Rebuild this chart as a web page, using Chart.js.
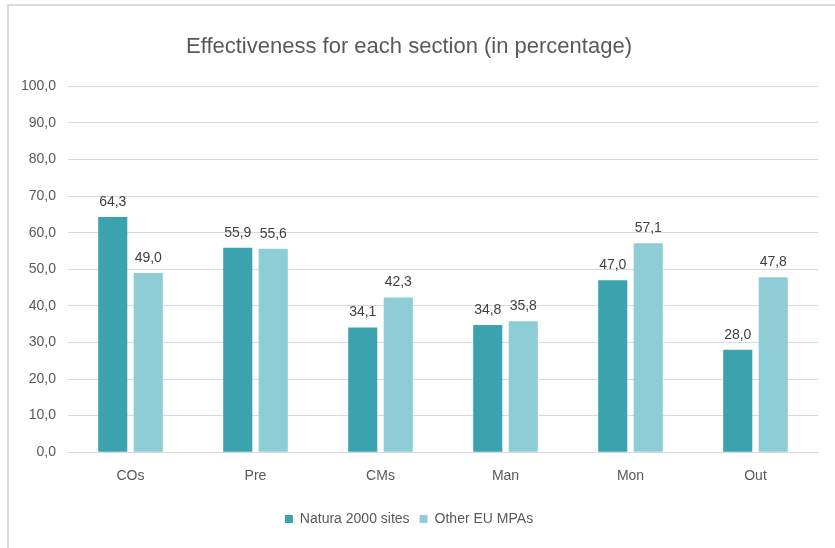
<!DOCTYPE html>
<html>
<head>
<meta charset="utf-8">
<script src="https://cdn.jsdelivr.net/npm/chart.js@4/dist/chart.umd.min.js"></script>
<style>
  html, body { margin: 0; padding: 0; background: #fff; }
  .frame { position: absolute; left: 7px; top: 4px; width: 840px; height: 560px; border-left: 2px solid #dcdcdc; border-top: 2px solid #dcdcdc; }
  .wrap { position: absolute; left: 0; top: 0; width: 835px; height: 548px; }
</style>
</head>
<body>
<div class="frame"></div>
<div class="wrap"><canvas id="chart" width="835" height="548"></canvas></div>
<script>
// values
const sections = ['COs', 'Pre', 'CMs', 'Man', 'Mon', 'Out'];
const natura2000 = [64.3, 55.9, 34.1, 34.8, 47.0, 28.0];
const otherEuMpas = [49.0, 55.6, 42.3, 35.8, 57.1, 47.8];

const fmt = v => v.toFixed(1).replace('.', ',');

// simple value labels above each bar
const valueLabels = {
  id: 'valueLabels',
  afterDatasetsDraw(chart) {
    const ctx = chart.ctx;
    ctx.save();
    ctx.font = '14px "Liberation Sans", Arial, sans-serif';
    ctx.fillStyle = '#404040';
    ctx.textAlign = 'center';
    ctx.textBaseline = 'bottom';
    chart.data.datasets.forEach((ds, i) => {
      chart.getDatasetMeta(i).data.forEach((bar, j) => {
        ctx.fillText(fmt(ds.data[j]), bar.x, bar.y - 8);
      });
    });
    ctx.restore();
  }
};

new Chart(document.getElementById('chart'), {
  type: 'bar',
  data: {
    labels: sections,
    datasets: [
      { label: 'Natura 2000 sites', data: natura2000, backgroundColor: '#3ba3ad' },
      { label: 'Other EU MPAs', data: otherEuMpas, backgroundColor: '#8ecdd5' }
    ]
  },
  options: {
    responsive: false,
    animation: false,
    layout: { padding: { left: 0, right: 17, top: 0, bottom: 12 } },
    datasets: { bar: { categoryPercentage: 0.568, barPercentage: 0.82 } },
    plugins: {
      title: {
        display: true,
        text: 'Effectiveness for each section (in percentage)',
        color: '#595959',
        font: { family: '"Liberation Sans", Arial, sans-serif', size: 22, weight: 'normal' },
        padding: { top: 34, bottom: 26 }
      },
      legend: {
        position: 'bottom',
        labels: {
          color: '#595959',
          font: { family: '"Liberation Sans", Arial, sans-serif', size: 14 },
          boxWidth: 8,
          boxHeight: 8,
          padding: 10
        }
      },
      tooltip: { enabled: false }
    },
    scales: {
      x: {
        afterFit(scale) { scale.height += 1; },
        grid: { display: false, drawTicks: false },
        border: { color: '#d9d9d9', width: 1 },
        ticks: {
          color: '#595959',
          font: { family: '"Liberation Sans", Arial, sans-serif', size: 14 },
          padding: 16
        }
      },
      y: {
        min: 0,
        max: 100,
        afterFit(scale) { scale.width = 68; },
        grid: { color: '#d9d9d9', drawTicks: false },
        border: { display: false },
        ticks: {
          stepSize: 10,
          padding: 12,
          color: '#595959',
          font: { family: '"Liberation Sans", Arial, sans-serif', size: 14 },
          callback: v => fmt(v)
        }
      }
    }
  },
  plugins: [valueLabels]
});
</script>
</body>
</html>
